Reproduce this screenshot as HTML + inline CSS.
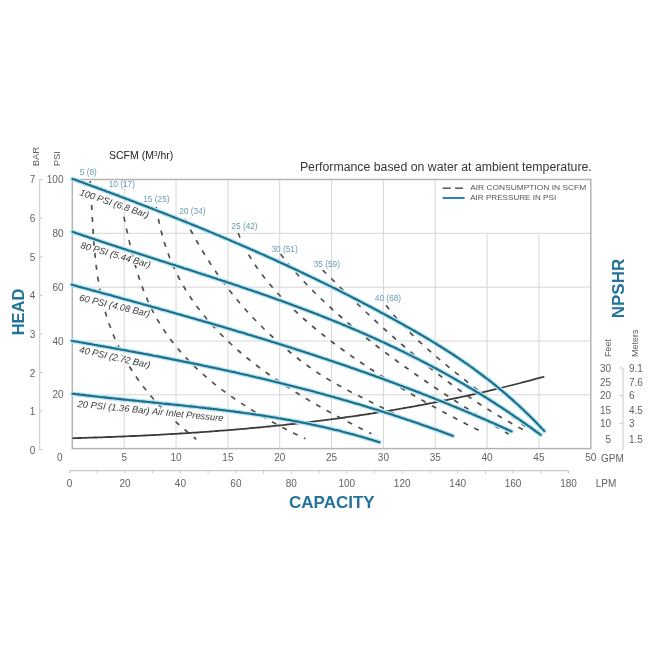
<!DOCTYPE html>
<html><head><meta charset="utf-8"><style>
html,body{margin:0;padding:0;background:#fff;width:650px;height:650px;overflow:hidden}
svg{display:block;filter:blur(0.3px);font-family:"Liberation Sans", sans-serif}
</style></head><body>
<svg width="650" height="650" viewBox="0 0 650 650">
<line x1="124.2" y1="179.5" x2="124.2" y2="448.6" stroke="#d6d6d6" stroke-width="1"/>
<line x1="176.0" y1="179.5" x2="176.0" y2="448.6" stroke="#d6d6d6" stroke-width="1"/>
<line x1="227.9" y1="179.5" x2="227.9" y2="448.6" stroke="#d6d6d6" stroke-width="1"/>
<line x1="279.7" y1="179.5" x2="279.7" y2="448.6" stroke="#d6d6d6" stroke-width="1"/>
<line x1="331.6" y1="179.5" x2="331.6" y2="448.6" stroke="#d6d6d6" stroke-width="1"/>
<line x1="383.4" y1="179.5" x2="383.4" y2="448.6" stroke="#d6d6d6" stroke-width="1"/>
<line x1="435.2" y1="179.5" x2="435.2" y2="448.6" stroke="#d6d6d6" stroke-width="1"/>
<line x1="487.1" y1="233.3" x2="487.1" y2="448.6" stroke="#d6d6d6" stroke-width="1"/>
<line x1="538.9" y1="233.3" x2="538.9" y2="448.6" stroke="#d6d6d6" stroke-width="1"/>
<line x1="72.3" y1="394.8" x2="590.8" y2="394.8" stroke="#d6d6d6" stroke-width="1"/>
<line x1="72.3" y1="341.0" x2="590.8" y2="341.0" stroke="#d6d6d6" stroke-width="1"/>
<line x1="72.3" y1="287.1" x2="590.8" y2="287.1" stroke="#d6d6d6" stroke-width="1"/>
<line x1="72.3" y1="233.3" x2="590.8" y2="233.3" stroke="#d6d6d6" stroke-width="1"/>
<rect x="72.3" y="179.5" width="518.5" height="269.1" fill="none" stroke="#b4b4b4" stroke-width="1.5"/>
<path d="M72.5,438.2 L74.5,438.2 L76.5,438.1 L78.5,438.0 L80.5,438.0 L82.5,437.9 L84.5,437.9 L86.5,437.8 L88.5,437.7 L90.5,437.7 L92.5,437.6 L94.5,437.5 L96.5,437.5 L98.5,437.4 L100.5,437.3 L102.5,437.3 L104.5,437.2 L106.5,437.1 L108.5,437.0 L110.5,437.0 L112.5,436.9 L114.5,436.8 L116.5,436.7 L118.5,436.6 L120.5,436.6 L122.5,436.5 L124.5,436.4 L126.5,436.3 L128.5,436.2 L130.5,436.1 L132.5,436.0 L134.5,436.0 L136.5,435.9 L138.5,435.8 L140.5,435.7 L142.5,435.6 L144.5,435.5 L146.5,435.4 L148.5,435.3 L150.5,435.2 L152.5,435.1 L154.5,435.0 L156.5,434.9 L158.5,434.8 L160.5,434.7 L162.5,434.6 L164.5,434.4 L166.5,434.3 L168.5,434.2 L170.5,434.1 L172.5,434.0 L174.5,433.9 L176.5,433.8 L178.5,433.6 L180.5,433.5 L182.5,433.4 L184.5,433.3 L186.5,433.1 L188.5,433.0 L190.5,432.9 L192.5,432.7 L194.5,432.6 L196.5,432.5 L198.5,432.3 L200.5,432.2 L202.5,432.1 L204.5,431.9 L206.5,431.8 L208.5,431.6 L210.5,431.5 L212.5,431.3 L214.5,431.2 L216.5,431.0 L218.5,430.9 L220.5,430.7 L222.5,430.6 L224.5,430.4 L226.5,430.3 L228.5,430.1 L230.5,429.9 L232.5,429.8 L234.5,429.6 L236.5,429.4 L238.5,429.3 L240.5,429.1 L242.5,428.9 L244.5,428.8 L246.5,428.6 L248.5,428.4 L250.5,428.2 L252.5,428.0 L254.5,427.9 L256.5,427.7 L258.5,427.5 L260.5,427.3 L262.5,427.1 L264.5,426.9 L266.5,426.7 L268.5,426.5 L270.5,426.3 L272.5,426.1 L274.5,425.9 L276.5,425.7 L278.5,425.5 L280.5,425.3 L282.5,425.1 L284.5,424.9 L286.5,424.6 L288.5,424.4 L290.5,424.2 L292.5,424.0 L294.5,423.8 L296.5,423.5 L298.5,423.3 L300.5,423.1 L302.5,422.9 L304.5,422.6 L306.5,422.4 L308.5,422.1 L310.5,421.9 L312.5,421.7 L314.5,421.4 L316.5,421.2 L318.5,420.9 L320.5,420.7 L322.5,420.4 L324.5,420.2 L326.5,419.9 L328.5,419.6 L330.5,419.4 L332.5,419.1 L334.5,418.9 L336.5,418.6 L338.5,418.3 L340.5,418.0 L342.5,417.8 L344.5,417.5 L346.5,417.2 L348.5,416.9 L350.5,416.6 L352.5,416.4 L354.5,416.1 L356.5,415.8 L358.5,415.5 L360.5,415.2 L362.5,414.9 L364.5,414.6 L366.5,414.3 L368.5,414.0 L370.5,413.7 L372.5,413.4 L374.5,413.0 L376.5,412.7 L378.5,412.4 L380.5,412.1 L382.5,411.8 L384.5,411.4 L386.5,411.1 L388.5,410.8 L390.5,410.5 L392.5,410.1 L394.5,409.8 L396.5,409.4 L398.5,409.1 L400.5,408.7 L402.5,408.4 L404.5,408.0 L406.5,407.7 L408.5,407.3 L410.5,407.0 L412.5,406.6 L414.5,406.3 L416.5,405.9 L418.5,405.5 L420.5,405.1 L422.5,404.8 L424.5,404.4 L426.5,404.0 L428.5,403.6 L430.5,403.2 L432.5,402.9 L434.5,402.5 L436.5,402.1 L438.5,401.7 L440.5,401.3 L442.5,400.9 L444.5,400.5 L446.5,400.1 L448.5,399.7 L450.5,399.2 L452.5,398.8 L454.5,398.4 L456.5,398.0 L458.5,397.6 L460.5,397.1 L462.5,396.7 L464.5,396.3 L466.5,395.8 L468.5,395.4 L470.5,395.0 L472.5,394.5 L474.5,394.1 L476.5,393.6 L478.5,393.2 L480.5,392.7 L482.5,392.3 L484.5,391.8 L486.5,391.3 L488.5,390.9 L490.5,390.4 L492.5,389.9 L494.5,389.4 L496.5,389.0 L498.5,388.5 L500.5,388.0 L502.5,387.5 L504.5,387.0 L506.5,386.5 L508.5,386.0 L510.5,385.5 L512.5,385.0 L514.5,384.5 L516.5,384.0 L518.5,383.5 L520.5,383.0 L522.5,382.4 L524.5,381.9 L526.5,381.4 L528.5,380.9 L530.5,380.3 L532.5,379.8 L534.5,379.2 L536.5,378.7 L538.5,378.2 L540.5,377.6 L542.5,377.1 L544.3,376.6" fill="none" stroke="#3a3a3a" stroke-width="1.8"/>
<path d="M90.1,181.0 L90.2,183.0 L90.4,185.0 L90.5,187.0 L90.6,189.0 L90.8,191.0 L90.9,193.0 L91.0,195.0 L91.1,197.0 L91.2,199.0 L91.4,201.0 L91.5,203.0 L91.6,205.0 L91.7,207.0 L91.8,209.0 L91.9,211.0 L92.0,213.0 L92.1,215.0 L92.2,217.0 L92.4,219.0 L92.5,221.0 L92.6,223.0 L92.7,225.0 L92.8,227.0 L92.9,229.0 L93.1,231.0 L93.2,233.0 L93.3,235.0 L93.5,237.0 L93.6,239.0 L93.8,241.0 L93.9,243.0 L94.1,245.0 L94.2,247.0 L94.4,249.0 L94.6,251.0 L94.8,253.0 L95.0,255.0 L95.2,257.0 L95.4,259.0 L95.6,261.0 L95.8,263.0 L96.1,265.0 L96.3,267.0 L96.6,269.0 L96.8,271.0 L97.1,273.0 L97.4,275.0 L97.7,277.0 L98.0,279.0 L98.4,281.0 L98.7,283.0 L99.0,285.0 L99.4,287.0 L99.8,289.0 L100.2,291.0 L100.6,293.0 L101.0,295.0 L101.5,297.0 L101.9,299.0 L102.4,301.0 L102.9,303.0 L103.4,305.0 L103.9,307.0 L104.5,309.0 L105.0,311.0 L105.6,313.0 L106.2,315.0 L106.9,317.0 L107.5,319.0 L108.1,321.0 L108.8,323.0 L109.5,325.0 L110.3,327.0 L111.0,329.0 L111.8,331.0 L112.5,333.0 L113.4,335.0 L114.2,337.0 L115.0,339.0 L115.9,341.0 L116.8,343.0 L117.8,345.0 L118.7,347.0 L119.7,349.0 L120.7,351.0 L121.7,353.0 L122.8,355.0 L123.9,357.0 L125.0,359.0 L126.1,361.0 L127.3,363.0 L128.5,365.0 L129.7,367.0 L131.0,369.0 L132.3,371.0 L133.6,373.0 L134.9,375.0 L136.3,377.0 L137.7,379.0 L139.1,381.0 L140.6,383.0 L142.1,385.0 L143.6,387.0 L145.2,389.0 L146.8,391.0 L148.4,393.0 L150.1,395.0 L151.8,397.0 L153.5,399.0 L155.3,401.0 L157.1,403.0 L158.9,405.0 L160.8,407.0 L162.7,409.0 L164.7,411.0 L166.6,413.0 L168.7,415.0 L170.7,417.0 L172.8,419.0 L175.0,421.0 L177.1,423.0 L179.4,425.0 L181.6,427.0 L183.9,429.0 L186.3,431.0 L188.6,433.0 L191.1,435.0 L193.5,437.0 L196.0,439.0 L196.3,439.2" fill="none" stroke="#505050" stroke-width="1.7" stroke-dasharray="5 7"/>
<path d="M118.3,193.4 L118.8,195.4 L119.3,197.4 L119.8,199.4 L120.3,201.4 L120.8,203.4 L121.3,205.4 L121.7,207.4 L122.2,209.4 L122.7,211.4 L123.1,213.4 L123.6,215.4 L124.0,217.4 L124.5,219.4 L124.9,221.4 L125.3,223.4 L125.8,225.4 L126.2,227.4 L126.6,229.4 L127.1,231.4 L127.5,233.4 L128.0,235.4 L128.4,237.4 L128.9,239.4 L129.3,241.4 L129.8,243.4 L130.2,245.4 L130.7,247.4 L131.2,249.4 L131.6,251.4 L132.1,253.4 L132.6,255.4 L133.1,257.4 L133.7,259.4 L134.2,261.4 L134.7,263.4 L135.3,265.4 L135.9,267.4 L136.4,269.4 L137.0,271.4 L137.6,273.4 L138.3,275.4 L138.9,277.4 L139.6,279.4 L140.2,281.4 L140.9,283.4 L141.6,285.4 L142.4,287.4 L143.1,289.4 L143.9,291.4 L144.7,293.4 L145.5,295.4 L146.4,297.4 L147.2,299.4 L148.1,301.4 L149.0,303.4 L150.0,305.4 L150.9,307.4 L151.9,309.4 L152.9,311.4 L154.0,313.4 L155.1,315.4 L156.2,317.4 L157.3,319.4 L158.5,321.4 L159.7,323.4 L160.9,325.4 L162.2,327.4 L163.5,329.4 L164.8,331.4 L166.2,333.4 L167.6,335.4 L169.0,337.4 L170.5,339.4 L172.0,341.4 L173.6,343.4 L175.2,345.4 L176.8,347.4 L178.5,349.4 L180.2,351.4 L182.0,353.4 L183.8,355.4 L185.6,357.4 L187.5,359.4 L189.4,361.4 L191.4,363.4 L193.4,365.4 L195.5,367.4 L197.6,369.4 L199.8,371.4 L202.0,373.4 L204.3,375.4 L206.6,377.4 L208.9,379.4 L211.3,381.4 L213.8,383.4 L216.3,385.4 L218.9,387.4 L221.5,389.4 L224.2,391.4 L226.9,393.4 L229.7,395.4 L232.6,397.4 L235.5,399.4 L238.4,401.4 L241.5,403.4 L244.6,405.4 L247.7,407.4 L250.9,409.4 L254.2,411.4 L257.5,413.4 L260.9,415.4 L264.3,417.4 L267.8,419.4 L271.4,421.4 L275.1,423.4 L278.8,425.4 L282.5,427.4 L286.4,429.4 L290.3,431.4 L294.3,433.4 L298.3,435.4 L302.5,437.4 L305.4,438.8" fill="none" stroke="#505050" stroke-width="1.7" stroke-dasharray="5 7"/>
<path d="M156.3,207.0 L156.6,209.0 L156.9,211.0 L157.3,213.0 L157.6,215.0 L158.0,217.0 L158.4,219.0 L158.8,221.0 L159.2,223.0 L159.7,225.0 L160.2,227.0 L160.6,229.0 L161.1,231.0 L161.7,233.0 L162.2,235.0 L162.7,237.0 L163.3,239.0 L163.9,241.0 L164.5,243.0 L165.2,245.0 L165.8,247.0 L166.5,249.0 L167.2,251.0 L167.9,253.0 L168.7,255.0 L169.4,257.0 L170.2,259.0 L171.1,261.0 L171.9,263.0 L172.8,265.0 L173.6,267.0 L174.6,269.0 L175.5,271.0 L176.5,273.0 L177.5,275.0 L178.5,277.0 L179.5,279.0 L180.6,281.0 L181.7,283.0 L182.8,285.0 L184.0,287.0 L185.2,289.0 L186.4,291.0 L187.7,293.0 L188.9,295.0 L190.3,297.0 L191.6,299.0 L193.0,301.0 L194.4,303.0 L195.8,305.0 L197.3,307.0 L198.8,309.0 L200.3,311.0 L201.9,313.0 L203.5,315.0 L205.2,317.0 L206.8,319.0 L208.6,321.0 L210.3,323.0 L212.1,325.0 L213.9,327.0 L215.8,329.0 L217.7,331.0 L219.6,333.0 L221.6,335.0 L223.6,337.0 L225.6,339.0 L227.7,341.0 L229.9,343.0 L232.0,345.0 L234.2,347.0 L236.5,349.0 L238.8,351.0 L241.1,353.0 L243.5,355.0 L245.9,357.0 L248.4,359.0 L250.9,361.0 L253.4,363.0 L256.0,365.0 L258.7,367.0 L261.3,369.0 L264.1,371.0 L266.8,373.0 L269.6,375.0 L272.5,377.0 L275.4,379.0 L278.4,381.0 L281.4,383.0 L284.4,385.0 L287.5,387.0 L290.6,389.0 L293.8,391.0 L297.0,393.0 L300.2,395.0 L303.5,397.0 L306.8,399.0 L310.2,401.0 L313.6,403.0 L317.1,405.0 L320.6,407.0 L324.1,409.0 L327.7,411.0 L331.3,413.0 L335.0,415.0 L338.7,417.0 L342.5,419.0 L346.2,421.0 L350.1,423.0 L353.9,425.0 L357.8,427.0 L361.8,429.0 L365.7,431.0 L369.8,433.0 L371.4,433.8" fill="none" stroke="#505050" stroke-width="1.7" stroke-dasharray="5 7"/>
<path d="M184.7,219.0 L185.8,221.0 L186.8,223.0 L187.9,225.0 L188.9,227.0 L190.0,229.0 L191.1,231.0 L192.2,233.0 L193.3,235.0 L194.4,237.0 L195.5,239.0 L196.7,241.0 L197.8,243.0 L199.0,245.0 L200.1,247.0 L201.3,249.0 L202.5,251.0 L203.8,253.0 L205.0,255.0 L206.2,257.0 L207.5,259.0 L208.8,261.0 L210.0,263.0 L211.3,265.0 L212.7,267.0 L214.0,269.0 L215.4,271.0 L216.7,273.0 L218.1,275.0 L219.5,277.0 L221.0,279.0 L222.4,281.0 L223.9,283.0 L225.4,285.0 L226.9,287.0 L228.4,289.0 L230.0,291.0 L231.6,293.0 L233.2,295.0 L234.8,297.0 L236.4,299.0 L238.1,301.0 L239.8,303.0 L241.5,305.0 L243.2,307.0 L245.0,309.0 L246.8,311.0 L248.6,313.0 L250.4,315.0 L252.3,317.0 L254.2,319.0 L256.1,321.0 L258.1,323.0 L260.1,325.0 L262.1,327.0 L264.1,329.0 L266.2,331.0 L268.3,333.0 L270.4,335.0 L272.6,337.0 L274.8,339.0 L277.0,341.0 L279.2,343.0 L281.5,345.0 L283.8,347.0 L286.2,349.0 L288.6,351.0 L291.0,353.0 L293.5,355.0 L296.0,357.0 L298.5,359.0 L301.1,361.0 L303.8,363.0 L306.5,365.0 L309.3,367.0 L312.1,369.0 L315.1,371.0 L318.1,373.0 L321.2,375.0 L324.4,377.0 L327.7,379.0 L331.0,381.0 L334.5,383.0 L338.0,385.0 L341.6,387.0 L345.3,389.0 L349.1,391.0 L353.0,393.0 L356.9,395.0 L360.9,397.0 L364.9,399.0 L368.9,401.0 L372.9,403.0 L377.0,405.0 L381.0,407.0 L385.1,409.0 L389.0,411.0 L393.0,413.0 L396.9,415.0 L400.7,417.0 L404.4,419.0 L408.1,421.0 L409.0,421.5" fill="none" stroke="#505050" stroke-width="1.7" stroke-dasharray="5 7"/>
<path d="M238.2,233.0 L239.0,235.0 L239.8,237.0 L240.7,239.0 L241.6,241.0 L242.5,243.0 L243.5,245.0 L244.5,247.0 L245.5,249.0 L246.6,251.0 L247.7,253.0 L248.9,255.0 L250.1,257.0 L251.3,259.0 L252.6,261.0 L253.9,263.0 L255.2,265.0 L256.5,267.0 L257.9,269.0 L259.4,271.0 L260.8,273.0 L262.4,275.0 L263.9,277.0 L265.5,279.0 L267.1,281.0 L268.7,283.0 L270.4,285.0 L272.1,287.0 L273.8,289.0 L275.6,291.0 L277.4,293.0 L279.3,295.0 L281.1,297.0 L283.1,299.0 L285.0,301.0 L287.0,303.0 L289.0,305.0 L291.0,307.0 L293.1,309.0 L295.2,311.0 L297.4,313.0 L299.6,315.0 L301.8,317.0 L304.0,319.0 L306.3,321.0 L308.6,323.0 L311.0,325.0 L313.3,327.0 L315.7,329.0 L318.2,331.0 L320.7,333.0 L323.2,335.0 L325.7,337.0 L328.3,339.0 L330.9,341.0 L333.5,343.0 L336.2,345.0 L338.9,347.0 L341.6,349.0 L344.4,351.0 L347.2,353.0 L350.0,355.0 L352.8,357.0 L355.7,359.0 L358.6,361.0 L361.6,363.0 L364.6,365.0 L367.6,367.0 L370.6,369.0 L373.7,371.0 L376.8,373.0 L380.0,375.0 L383.1,377.0 L386.3,379.0 L389.5,381.0 L392.8,383.0 L396.1,385.0 L399.4,387.0 L402.8,389.0 L406.1,391.0 L409.6,393.0 L413.0,395.0 L416.5,397.0 L420.0,399.0 L423.5,401.0 L427.1,403.0 L430.6,405.0 L434.3,407.0 L437.9,409.0 L441.6,411.0 L445.3,413.0 L449.0,415.0 L452.8,417.0 L456.6,419.0 L460.4,421.0 L464.3,423.0 L468.1,425.0 L472.1,427.0 L476.0,429.0 L479.0,430.5" fill="none" stroke="#505050" stroke-width="1.7" stroke-dasharray="5 7"/>
<path d="M280.6,254.0 L282.1,256.0 L283.7,258.0 L285.2,260.0 L286.8,262.0 L288.5,264.0 L290.1,266.0 L291.8,268.0 L293.5,270.0 L295.3,272.0 L297.0,274.0 L298.8,276.0 L300.7,278.0 L302.5,280.0 L304.4,282.0 L306.3,284.0 L308.2,286.0 L310.1,288.0 L312.1,290.0 L314.1,292.0 L316.1,294.0 L318.2,296.0 L320.2,298.0 L322.3,300.0 L324.4,302.0 L326.6,304.0 L328.7,306.0 L330.9,308.0 L333.1,310.0 L335.4,312.0 L337.6,314.0 L339.9,316.0 L342.2,318.0 L344.5,320.0 L346.9,322.0 L349.2,324.0 L351.6,326.0 L354.0,328.0 L356.5,330.0 L358.9,332.0 L361.4,334.0 L363.9,336.0 L366.4,338.0 L369.0,340.0 L371.5,342.0 L374.1,344.0 L376.7,346.0 L379.3,348.0 L382.0,350.0 L384.6,352.0 L387.3,354.0 L390.0,356.0 L392.7,358.0 L395.4,360.0 L398.2,362.0 L401.0,364.0 L403.8,366.0 L406.6,368.0 L409.4,370.0 L412.2,372.0 L415.1,374.0 L418.0,376.0 L420.9,378.0 L423.8,380.0 L426.7,382.0 L429.7,384.0 L432.7,386.0 L435.6,388.0 L438.6,390.0 L441.7,392.0 L444.7,394.0 L447.7,396.0 L450.8,398.0 L453.9,400.0 L457.0,402.0 L460.1,404.0 L463.2,406.0 L466.4,408.0 L469.5,410.0 L472.7,412.0 L475.9,414.0 L479.1,416.0 L482.3,418.0 L485.5,420.0 L488.7,422.0 L492.0,424.0 L495.3,426.0 L498.5,428.0 L501.8,430.0 L505.1,432.0 L508.5,434.0 L508.6,434.1" fill="none" stroke="#505050" stroke-width="1.7" stroke-dasharray="5 7"/>
<path d="M322.6,270.0 L324.7,272.0 L326.7,274.0 L328.7,276.0 L330.7,278.0 L332.8,280.0 L334.8,282.0 L336.9,284.0 L338.9,286.0 L340.9,288.0 L343.0,290.0 L345.0,292.0 L347.1,294.0 L349.2,296.0 L351.2,298.0 L353.3,300.0 L355.4,302.0 L357.5,304.0 L359.6,306.0 L361.7,308.0 L363.8,310.0 L365.9,312.0 L368.0,314.0 L370.2,316.0 L372.3,318.0 L374.5,320.0 L376.7,322.0 L378.8,324.0 L381.0,326.0 L383.2,328.0 L385.4,330.0 L387.7,332.0 L389.9,334.0 L392.2,336.0 L394.4,338.0 L396.7,340.0 L399.0,342.0 L401.3,344.0 L403.6,346.0 L405.9,348.0 L408.3,350.0 L410.7,352.0 L413.1,354.0 L415.5,356.0 L417.9,358.0 L420.3,360.0 L422.8,362.0 L425.2,364.0 L427.7,366.0 L430.2,368.0 L432.7,370.0 L435.3,372.0 L437.9,374.0 L440.5,376.0 L443.1,378.0 L445.7,380.0 L448.3,382.0 L451.0,384.0 L453.7,386.0 L456.5,388.0 L459.2,390.0 L462.0,392.0 L464.9,394.0 L467.8,396.0 L470.7,398.0 L473.6,400.0 L476.6,402.0 L479.6,404.0 L482.7,406.0 L485.8,408.0 L489.0,410.0 L492.2,412.0 L495.5,414.0 L498.8,416.0 L502.2,418.0 L505.6,420.0 L509.1,422.0 L512.7,424.0 L516.3,426.0 L519.9,428.0 L523.7,430.0 L527.5,432.0 L528.0,432.3" fill="none" stroke="#505050" stroke-width="1.7" stroke-dasharray="5 7"/>
<path d="M386.1,305.3 L387.6,307.3 L389.1,309.3 L390.7,311.3 L392.4,313.3 L394.0,315.3 L395.8,317.3 L397.5,319.3 L399.3,321.3 L401.1,323.3 L403.0,325.3 L404.9,327.3 L406.8,329.3 L408.8,331.3 L410.8,333.3 L412.9,335.3 L414.9,337.3 L417.0,339.3 L419.1,341.3 L421.3,343.3 L423.5,345.3 L425.7,347.3 L427.9,349.3 L430.2,351.3 L432.5,353.3 L434.8,355.3 L437.1,357.3 L439.5,359.3 L441.9,361.3 L444.3,363.3 L446.7,365.3 L449.1,367.3 L451.6,369.3 L454.1,371.3 L456.5,373.3 L459.0,375.3 L461.6,377.3 L464.1,379.3 L466.6,381.3 L469.2,383.3 L471.7,385.3 L474.3,387.3 L476.9,389.3 L479.5,391.3 L482.1,393.3 L484.7,395.3 L487.3,397.3 L489.9,399.3 L492.5,401.3 L495.1,403.3 L497.7,405.3 L500.3,407.3 L503.0,409.3 L505.6,411.3 L508.2,413.3 L510.8,415.3 L513.4,417.3 L516.0,419.3 L518.6,421.3 L521.2,423.3 L523.8,425.3 L526.4,427.3 L528.9,429.3 L530.5,430.5" fill="none" stroke="#505050" stroke-width="1.7" stroke-dasharray="5 7"/>
<text x="77.3" y="407.0" font-size="9.4" font-style="italic" fill="#3a3a3a" stroke="#fff" stroke-width="2.2" paint-order="stroke" transform="rotate(5.6 77.3 407.0)">20 PSI (1.36 Bar) Air Inlet Pressure</text>
<text x="78.8" y="352.5" font-size="9.4" font-style="italic" fill="#3a3a3a" stroke="#fff" stroke-width="2.2" paint-order="stroke" transform="rotate(12.6 78.8 352.5)">40 PSI (2.72 Bar)</text>
<text x="78.7" y="300.5" font-size="9.4" font-style="italic" fill="#3a3a3a" stroke="#fff" stroke-width="2.2" paint-order="stroke" transform="rotate(13.2 78.7 300.5)">60 PSI (4.08 Bar)</text>
<text x="80.0" y="248.0" font-size="9.4" font-style="italic" fill="#3a3a3a" stroke="#fff" stroke-width="2.2" paint-order="stroke" transform="rotate(16.0 80.0 248.0)">80 PSI (5.44 Bar)</text>
<text x="79.0" y="195.0" font-size="9.4" font-style="italic" fill="#3a3a3a" stroke="#fff" stroke-width="2.2" paint-order="stroke" transform="rotate(18.7 79.0 195.0)">100 PSI (6.8 Bar)</text>
<path d="M72.5,178.9 L74.5,179.6 L76.5,180.3 L78.5,181.0 L80.5,181.8 L82.5,182.5 L84.5,183.2 L86.5,184.0 L88.5,184.7 L90.5,185.4 L92.5,186.2 L94.5,186.9 L96.5,187.6 L98.5,188.4 L100.5,189.1 L102.5,189.9 L104.5,190.6 L106.5,191.4 L108.5,192.1 L110.5,192.8 L112.5,193.6 L114.5,194.3 L116.5,195.1 L118.5,195.8 L120.5,196.6 L122.5,197.4 L124.5,198.1 L126.5,198.9 L128.5,199.6 L130.5,200.4 L132.5,201.1 L134.5,201.9 L136.5,202.7 L138.5,203.4 L140.5,204.2 L142.5,205.0 L144.5,205.7 L146.5,206.5 L148.5,207.3 L150.5,208.1 L152.5,208.8 L154.5,209.6 L156.5,210.4 L158.5,211.2 L160.5,211.9 L162.5,212.7 L164.5,213.5 L166.5,214.3 L168.5,215.1 L170.5,215.9 L172.5,216.7 L174.5,217.5 L176.5,218.3 L178.5,219.1 L180.5,219.9 L182.5,220.7 L184.5,221.5 L186.5,222.3 L188.5,223.1 L190.5,223.9 L192.5,224.7 L194.5,225.5 L196.5,226.3 L198.5,227.1 L200.5,228.0 L202.5,228.8 L204.5,229.6 L206.5,230.4 L208.5,231.3 L210.5,232.1 L212.5,232.9 L214.5,233.8 L216.5,234.6 L218.5,235.4 L220.5,236.3 L222.5,237.1 L224.5,238.0 L226.5,238.8 L228.5,239.6 L230.5,240.5 L232.5,241.4 L234.5,242.2 L236.5,243.1 L238.5,243.9 L240.5,244.8 L242.5,245.7 L244.5,246.5 L246.5,247.4 L248.5,248.3 L250.5,249.1 L252.5,250.0 L254.5,250.9 L256.5,251.8 L258.5,252.7 L260.5,253.6 L262.5,254.4 L264.5,255.3 L266.5,256.2 L268.5,257.1 L270.5,258.0 L272.5,258.9 L274.5,259.8 L276.5,260.7 L278.5,261.7 L280.5,262.6 L282.5,263.5 L284.5,264.4 L286.5,265.3 L288.5,266.3 L290.5,267.2 L292.5,268.1 L294.5,269.0 L296.5,270.0 L298.5,270.9 L300.5,271.9 L302.5,272.8 L304.5,273.8 L306.5,274.7 L308.5,275.7 L310.5,276.6 L312.5,277.6 L314.5,278.5 L316.5,279.5 L318.5,280.5 L320.5,281.5 L322.5,282.4 L324.5,283.4 L326.5,284.4 L328.5,285.4 L330.5,286.4 L332.5,287.4 L334.5,288.3 L336.5,289.3 L338.5,290.3 L340.5,291.4 L342.5,292.4 L344.5,293.4 L346.5,294.4 L348.5,295.4 L350.5,296.4 L352.5,297.5 L354.5,298.5 L356.5,299.5 L358.5,300.5 L360.5,301.6 L362.5,302.6 L364.5,303.7 L366.5,304.7 L368.5,305.8 L370.5,306.8 L372.5,307.9 L374.5,309.0 L376.5,310.0 L378.5,311.1 L380.5,312.2 L382.5,313.2 L384.5,314.3 L386.5,315.4 L388.5,316.5 L390.5,317.6 L392.5,318.7 L394.5,319.8 L396.5,320.9 L398.5,322.0 L400.5,323.1 L402.5,324.2 L404.5,325.3 L406.5,326.5 L408.5,327.6 L410.5,328.7 L412.5,329.9 L414.5,331.0 L416.5,332.2 L418.5,333.3 L420.5,334.5 L422.5,335.6 L424.5,336.8 L426.5,338.0 L428.5,339.2 L430.5,340.4 L432.5,341.6 L434.5,342.8 L436.5,344.0 L438.5,345.3 L440.5,346.5 L442.5,347.8 L444.5,349.0 L446.5,350.3 L448.5,351.6 L450.5,352.9 L452.5,354.2 L454.5,355.5 L456.5,356.8 L458.5,358.2 L460.5,359.5 L462.5,360.9 L464.5,362.3 L466.5,363.6 L468.5,365.0 L470.5,366.5 L472.5,367.9 L474.5,369.3 L476.5,370.8 L478.5,372.3 L480.5,373.8 L482.5,375.3 L484.5,376.8 L486.5,378.3 L488.5,379.9 L490.5,381.4 L492.5,383.0 L494.5,384.6 L496.5,386.3 L498.5,387.9 L500.5,389.6 L502.5,391.2 L504.5,392.9 L506.5,394.6 L508.5,396.4 L510.5,398.1 L512.5,399.9 L514.5,401.7 L516.5,403.5 L518.5,405.3 L520.5,407.2 L522.5,409.1 L524.5,411.0 L526.5,412.9 L528.5,414.8 L530.5,416.8 L532.5,418.8 L534.5,420.8 L536.5,422.8 L538.5,424.9 L540.5,427.0 L542.5,429.1 L544.3,431.0" fill="none" stroke="#b2e4f2" stroke-width="4.6" stroke-linecap="round"/>
<path d="M72.5,231.8 L74.5,232.5 L76.5,233.2 L78.5,233.8 L80.5,234.5 L82.5,235.2 L84.5,235.9 L86.5,236.6 L88.5,237.2 L90.5,237.9 L92.5,238.6 L94.5,239.2 L96.5,239.9 L98.5,240.6 L100.5,241.2 L102.5,241.9 L104.5,242.6 L106.5,243.2 L108.5,243.9 L110.5,244.5 L112.5,245.2 L114.5,245.8 L116.5,246.5 L118.5,247.2 L120.5,247.8 L122.5,248.5 L124.5,249.1 L126.5,249.7 L128.5,250.4 L130.5,251.0 L132.5,251.7 L134.5,252.3 L136.5,253.0 L138.5,253.6 L140.5,254.3 L142.5,254.9 L144.5,255.5 L146.5,256.2 L148.5,256.8 L150.5,257.5 L152.5,258.1 L154.5,258.8 L156.5,259.4 L158.5,260.0 L160.5,260.7 L162.5,261.3 L164.5,261.9 L166.5,262.6 L168.5,263.2 L170.5,263.9 L172.5,264.5 L174.5,265.1 L176.5,265.8 L178.5,266.4 L180.5,267.1 L182.5,267.7 L184.5,268.4 L186.5,269.0 L188.5,269.6 L190.5,270.3 L192.5,270.9 L194.5,271.6 L196.5,272.2 L198.5,272.9 L200.5,273.5 L202.5,274.2 L204.5,274.8 L206.5,275.5 L208.5,276.1 L210.5,276.8 L212.5,277.4 L214.5,278.1 L216.5,278.7 L218.5,279.4 L220.5,280.0 L222.5,280.7 L224.5,281.3 L226.5,282.0 L228.5,282.7 L230.5,283.3 L232.5,284.0 L234.5,284.7 L236.5,285.3 L238.5,286.0 L240.5,286.7 L242.5,287.4 L244.5,288.0 L246.5,288.7 L248.5,289.4 L250.5,290.1 L252.5,290.8 L254.5,291.5 L256.5,292.1 L258.5,292.8 L260.5,293.5 L262.5,294.2 L264.5,294.9 L266.5,295.6 L268.5,296.3 L270.5,297.0 L272.5,297.7 L274.5,298.4 L276.5,299.2 L278.5,299.9 L280.5,300.6 L282.5,301.3 L284.5,302.0 L286.5,302.8 L288.5,303.5 L290.5,304.2 L292.5,305.0 L294.5,305.7 L296.5,306.4 L298.5,307.2 L300.5,307.9 L302.5,308.7 L304.5,309.4 L306.5,310.2 L308.5,311.0 L310.5,311.7 L312.5,312.5 L314.5,313.3 L316.5,314.0 L318.5,314.8 L320.5,315.6 L322.5,316.4 L324.5,317.2 L326.5,318.0 L328.5,318.8 L330.5,319.6 L332.5,320.4 L334.5,321.2 L336.5,322.0 L338.5,322.8 L340.5,323.6 L342.5,324.5 L344.5,325.3 L346.5,326.1 L348.5,327.0 L350.5,327.8 L352.5,328.7 L354.5,329.5 L356.5,330.4 L358.5,331.2 L360.5,332.1 L362.5,333.0 L364.5,333.8 L366.5,334.7 L368.5,335.6 L370.5,336.5 L372.5,337.4 L374.5,338.3 L376.5,339.2 L378.5,340.1 L380.5,341.0 L382.5,341.9 L384.5,342.8 L386.5,343.8 L388.5,344.7 L390.5,345.7 L392.5,346.6 L394.5,347.5 L396.5,348.5 L398.5,349.5 L400.5,350.4 L402.5,351.4 L404.5,352.4 L406.5,353.4 L408.5,354.4 L410.5,355.4 L412.5,356.4 L414.5,357.4 L416.5,358.4 L418.5,359.4 L420.5,360.4 L422.5,361.5 L424.5,362.5 L426.5,363.5 L428.5,364.6 L430.5,365.6 L432.5,366.7 L434.5,367.8 L436.5,368.8 L438.5,369.9 L440.5,371.0 L442.5,372.1 L444.5,373.2 L446.5,374.3 L448.5,375.4 L450.5,376.6 L452.5,377.7 L454.5,378.8 L456.5,380.0 L458.5,381.1 L460.5,382.3 L462.5,383.4 L464.5,384.6 L466.5,385.8 L468.5,387.0 L470.5,388.1 L472.5,389.3 L474.5,390.5 L476.5,391.8 L478.5,393.0 L480.5,394.2 L482.5,395.4 L484.5,396.7 L486.5,397.9 L488.5,399.2 L490.5,400.5 L492.5,401.7 L494.5,403.0 L496.5,404.3 L498.5,405.6 L500.5,406.9 L502.5,408.2 L504.5,409.5 L506.5,410.9 L508.5,412.2 L510.5,413.5 L512.5,414.9 L514.5,416.3 L516.5,417.6 L518.5,419.0 L520.5,420.4 L522.5,421.8 L524.5,423.2 L526.5,424.6 L528.5,426.0 L530.5,427.4 L532.5,428.9 L534.5,430.3 L536.5,431.8 L538.5,433.2 L540.5,434.7 L540.6,434.8" fill="none" stroke="#b2e4f2" stroke-width="4.6" stroke-linecap="round"/>
<path d="M71.8,284.7 L73.8,285.3 L75.8,285.8 L77.8,286.4 L79.8,286.9 L81.8,287.4 L83.8,288.0 L85.8,288.5 L87.8,289.1 L89.8,289.6 L91.8,290.2 L93.8,290.7 L95.8,291.3 L97.8,291.8 L99.8,292.3 L101.8,292.9 L103.8,293.4 L105.8,294.0 L107.8,294.5 L109.8,295.1 L111.8,295.6 L113.8,296.2 L115.8,296.7 L117.8,297.3 L119.8,297.8 L121.8,298.4 L123.8,298.9 L125.8,299.5 L127.8,300.0 L129.8,300.6 L131.8,301.1 L133.8,301.7 L135.8,302.2 L137.8,302.8 L139.8,303.3 L141.8,303.9 L143.8,304.4 L145.8,305.0 L147.8,305.5 L149.8,306.1 L151.8,306.7 L153.8,307.2 L155.8,307.8 L157.8,308.3 L159.8,308.9 L161.8,309.5 L163.8,310.0 L165.8,310.6 L167.8,311.1 L169.8,311.7 L171.8,312.3 L173.8,312.8 L175.8,313.4 L177.8,314.0 L179.8,314.5 L181.8,315.1 L183.8,315.7 L185.8,316.2 L187.8,316.8 L189.8,317.4 L191.8,317.9 L193.8,318.5 L195.8,319.1 L197.8,319.7 L199.8,320.2 L201.8,320.8 L203.8,321.4 L205.8,322.0 L207.8,322.5 L209.8,323.1 L211.8,323.7 L213.8,324.3 L215.8,324.9 L217.8,325.4 L219.8,326.0 L221.8,326.6 L223.8,327.2 L225.8,327.8 L227.8,328.4 L229.8,329.0 L231.8,329.6 L233.8,330.2 L235.8,330.8 L237.8,331.4 L239.8,331.9 L241.8,332.5 L243.8,333.1 L245.8,333.7 L247.8,334.4 L249.8,335.0 L251.8,335.6 L253.8,336.2 L255.8,336.8 L257.8,337.4 L259.8,338.0 L261.8,338.6 L263.8,339.2 L265.8,339.8 L267.8,340.5 L269.8,341.1 L271.8,341.7 L273.8,342.3 L275.8,342.9 L277.8,343.6 L279.8,344.2 L281.8,344.8 L283.8,345.4 L285.8,346.1 L287.8,346.7 L289.8,347.3 L291.8,348.0 L293.8,348.6 L295.8,349.2 L297.8,349.9 L299.8,350.5 L301.8,351.2 L303.8,351.8 L305.8,352.5 L307.8,353.1 L309.8,353.8 L311.8,354.4 L313.8,355.1 L315.8,355.7 L317.8,356.4 L319.8,357.1 L321.8,357.7 L323.8,358.4 L325.8,359.0 L327.8,359.7 L329.8,360.4 L331.8,361.1 L333.8,361.7 L335.8,362.4 L337.8,363.1 L339.8,363.8 L341.8,364.4 L343.8,365.1 L345.8,365.8 L347.8,366.5 L349.8,367.2 L351.8,367.9 L353.8,368.6 L355.8,369.3 L357.8,370.0 L359.8,370.7 L361.8,371.4 L363.8,372.1 L365.8,372.8 L367.8,373.5 L369.8,374.2 L371.8,374.9 L373.8,375.6 L375.8,376.4 L377.8,377.1 L379.8,377.8 L381.8,378.5 L383.8,379.3 L385.8,380.0 L387.8,380.7 L389.8,381.5 L391.8,382.2 L393.8,382.9 L395.8,383.7 L397.8,384.4 L399.8,385.2 L401.8,385.9 L403.8,386.7 L405.8,387.4 L407.8,388.2 L409.8,389.0 L411.8,389.7 L413.8,390.5 L415.8,391.3 L417.8,392.0 L419.8,392.8 L421.8,393.6 L423.8,394.4 L425.8,395.1 L427.8,395.9 L429.8,396.7 L431.8,397.5 L433.8,398.3 L435.8,399.1 L437.8,399.9 L439.8,400.7 L441.8,401.5 L443.8,402.3 L445.8,403.1 L447.8,403.9 L449.8,404.7 L451.8,405.6 L453.8,406.4 L455.8,407.2 L457.8,408.0 L459.8,408.9 L461.8,409.7 L463.8,410.5 L465.8,411.4 L467.8,412.2 L469.8,413.0 L471.8,413.9 L473.8,414.7 L475.8,415.6 L477.8,416.5 L479.8,417.3 L481.8,418.2 L483.8,419.0 L485.8,419.9 L487.8,420.8 L489.8,421.7 L491.8,422.5 L493.8,423.4 L495.8,424.3 L497.8,425.2 L499.8,426.1 L501.8,427.0 L503.8,427.9 L505.8,428.8 L507.8,429.7 L509.8,430.6 L511.5,431.4" fill="none" stroke="#b2e4f2" stroke-width="4.6" stroke-linecap="round"/>
<path d="M71.8,340.8 L73.8,341.2 L75.8,341.5 L77.8,341.8 L79.8,342.2 L81.8,342.5 L83.8,342.9 L85.8,343.2 L87.8,343.6 L89.8,343.9 L91.8,344.3 L93.8,344.7 L95.8,345.0 L97.8,345.4 L99.8,345.7 L101.8,346.1 L103.8,346.4 L105.8,346.8 L107.8,347.1 L109.8,347.5 L111.8,347.9 L113.8,348.2 L115.8,348.6 L117.8,349.0 L119.8,349.3 L121.8,349.7 L123.8,350.0 L125.8,350.4 L127.8,350.8 L129.8,351.2 L131.8,351.5 L133.8,351.9 L135.8,352.3 L137.8,352.6 L139.8,353.0 L141.8,353.4 L143.8,353.8 L145.8,354.1 L147.8,354.5 L149.8,354.9 L151.8,355.3 L153.8,355.7 L155.8,356.0 L157.8,356.4 L159.8,356.8 L161.8,357.2 L163.8,357.6 L165.8,358.0 L167.8,358.4 L169.8,358.8 L171.8,359.2 L173.8,359.6 L175.8,360.0 L177.8,360.4 L179.8,360.8 L181.8,361.2 L183.8,361.6 L185.8,362.0 L187.8,362.4 L189.8,362.8 L191.8,363.2 L193.8,363.6 L195.8,364.0 L197.8,364.4 L199.8,364.8 L201.8,365.2 L203.8,365.7 L205.8,366.1 L207.8,366.5 L209.8,366.9 L211.8,367.4 L213.8,367.8 L215.8,368.2 L217.8,368.6 L219.8,369.1 L221.8,369.5 L223.8,369.9 L225.8,370.4 L227.8,370.8 L229.8,371.3 L231.8,371.7 L233.8,372.1 L235.8,372.6 L237.8,373.0 L239.8,373.5 L241.8,373.9 L243.8,374.4 L245.8,374.8 L247.8,375.3 L249.8,375.8 L251.8,376.2 L253.8,376.7 L255.8,377.2 L257.8,377.6 L259.8,378.1 L261.8,378.6 L263.8,379.0 L265.8,379.5 L267.8,380.0 L269.8,380.5 L271.8,381.0 L273.8,381.4 L275.8,381.9 L277.8,382.4 L279.8,382.9 L281.8,383.4 L283.8,383.9 L285.8,384.4 L287.8,384.9 L289.8,385.4 L291.8,385.9 L293.8,386.4 L295.8,386.9 L297.8,387.5 L299.8,388.0 L301.8,388.5 L303.8,389.0 L305.8,389.5 L307.8,390.1 L309.8,390.6 L311.8,391.1 L313.8,391.6 L315.8,392.2 L317.8,392.7 L319.8,393.3 L321.8,393.8 L323.8,394.3 L325.8,394.9 L327.8,395.4 L329.8,396.0 L331.8,396.6 L333.8,397.1 L335.8,397.7 L337.8,398.2 L339.8,398.8 L341.8,399.4 L343.8,400.0 L345.8,400.5 L347.8,401.1 L349.8,401.7 L351.8,402.3 L353.8,402.9 L355.8,403.5 L357.8,404.0 L359.8,404.6 L361.8,405.2 L363.8,405.8 L365.8,406.4 L367.8,407.1 L369.8,407.7 L371.8,408.3 L373.8,408.9 L375.8,409.5 L377.8,410.1 L379.8,410.8 L381.8,411.4 L383.8,412.0 L385.8,412.7 L387.8,413.3 L389.8,413.9 L391.8,414.6 L393.8,415.2 L395.8,415.9 L397.8,416.5 L399.8,417.2 L401.8,417.9 L403.8,418.5 L405.8,419.2 L407.8,419.9 L409.8,420.5 L411.8,421.2 L413.8,421.9 L415.8,422.6 L417.8,423.3 L419.8,424.0 L421.8,424.7 L423.8,425.4 L425.8,426.1 L427.8,426.8 L429.8,427.5 L431.8,428.2 L433.8,428.9 L435.8,429.6 L437.8,430.3 L439.8,431.1 L441.8,431.8 L443.8,432.5 L445.8,433.3 L447.8,434.0 L449.8,434.8 L451.8,435.5 L452.9,435.9" fill="none" stroke="#b2e4f2" stroke-width="4.6" stroke-linecap="round"/>
<path d="M72.5,393.7 L74.5,393.9 L76.5,394.2 L78.5,394.4 L80.5,394.7 L82.5,394.9 L84.5,395.1 L86.5,395.4 L88.5,395.6 L90.5,395.8 L92.5,396.1 L94.5,396.3 L96.5,396.5 L98.5,396.8 L100.5,397.0 L102.5,397.2 L104.5,397.4 L106.5,397.6 L108.5,397.9 L110.5,398.1 L112.5,398.3 L114.5,398.5 L116.5,398.7 L118.5,398.9 L120.5,399.1 L122.5,399.4 L124.5,399.6 L126.5,399.8 L128.5,400.0 L130.5,400.2 L132.5,400.4 L134.5,400.6 L136.5,400.8 L138.5,401.0 L140.5,401.2 L142.5,401.4 L144.5,401.6 L146.5,401.8 L148.5,402.0 L150.5,402.2 L152.5,402.4 L154.5,402.6 L156.5,402.8 L158.5,403.0 L160.5,403.2 L162.5,403.5 L164.5,403.7 L166.5,403.9 L168.5,404.1 L170.5,404.3 L172.5,404.5 L174.5,404.7 L176.5,404.9 L178.5,405.1 L180.5,405.3 L182.5,405.5 L184.5,405.7 L186.5,406.0 L188.5,406.2 L190.5,406.4 L192.5,406.6 L194.5,406.8 L196.5,407.0 L198.5,407.3 L200.5,407.5 L202.5,407.7 L204.5,407.9 L206.5,408.2 L208.5,408.4 L210.5,408.6 L212.5,408.9 L214.5,409.1 L216.5,409.3 L218.5,409.6 L220.5,409.8 L222.5,410.1 L224.5,410.3 L226.5,410.6 L228.5,410.8 L230.5,411.1 L232.5,411.3 L234.5,411.6 L236.5,411.9 L238.5,412.1 L240.5,412.4 L242.5,412.7 L244.5,413.0 L246.5,413.2 L248.5,413.5 L250.5,413.8 L252.5,414.1 L254.5,414.4 L256.5,414.7 L258.5,415.0 L260.5,415.3 L262.5,415.6 L264.5,415.9 L266.5,416.2 L268.5,416.5 L270.5,416.9 L272.5,417.2 L274.5,417.5 L276.5,417.8 L278.5,418.2 L280.5,418.5 L282.5,418.9 L284.5,419.2 L286.5,419.6 L288.5,419.9 L290.5,420.3 L292.5,420.7 L294.5,421.1 L296.5,421.4 L298.5,421.8 L300.5,422.2 L302.5,422.6 L304.5,423.0 L306.5,423.4 L308.5,423.8 L310.5,424.2 L312.5,424.7 L314.5,425.1 L316.5,425.5 L318.5,425.9 L320.5,426.4 L322.5,426.8 L324.5,427.3 L326.5,427.8 L328.5,428.2 L330.5,428.7 L332.5,429.2 L334.5,429.7 L336.5,430.1 L338.5,430.6 L340.5,431.1 L342.5,431.7 L344.5,432.2 L346.5,432.7 L348.5,433.2 L350.5,433.8 L352.5,434.3 L354.5,434.8 L356.5,435.4 L358.5,436.0 L360.5,436.5 L362.5,437.1 L364.5,437.7 L366.5,438.3 L368.5,438.9 L370.5,439.5 L372.5,440.1 L374.5,440.7 L376.5,441.3 L378.5,442.0 L379.4,442.3" fill="none" stroke="#b2e4f2" stroke-width="4.6" stroke-linecap="round"/>
<path d="M72.5,178.9 L74.5,179.6 L76.5,180.3 L78.5,181.0 L80.5,181.8 L82.5,182.5 L84.5,183.2 L86.5,184.0 L88.5,184.7 L90.5,185.4 L92.5,186.2 L94.5,186.9 L96.5,187.6 L98.5,188.4 L100.5,189.1 L102.5,189.9 L104.5,190.6 L106.5,191.4 L108.5,192.1 L110.5,192.8 L112.5,193.6 L114.5,194.3 L116.5,195.1 L118.5,195.8 L120.5,196.6 L122.5,197.4 L124.5,198.1 L126.5,198.9 L128.5,199.6 L130.5,200.4 L132.5,201.1 L134.5,201.9 L136.5,202.7 L138.5,203.4 L140.5,204.2 L142.5,205.0 L144.5,205.7 L146.5,206.5 L148.5,207.3 L150.5,208.1 L152.5,208.8 L154.5,209.6 L156.5,210.4 L158.5,211.2 L160.5,211.9 L162.5,212.7 L164.5,213.5 L166.5,214.3 L168.5,215.1 L170.5,215.9 L172.5,216.7 L174.5,217.5 L176.5,218.3 L178.5,219.1 L180.5,219.9 L182.5,220.7 L184.5,221.5 L186.5,222.3 L188.5,223.1 L190.5,223.9 L192.5,224.7 L194.5,225.5 L196.5,226.3 L198.5,227.1 L200.5,228.0 L202.5,228.8 L204.5,229.6 L206.5,230.4 L208.5,231.3 L210.5,232.1 L212.5,232.9 L214.5,233.8 L216.5,234.6 L218.5,235.4 L220.5,236.3 L222.5,237.1 L224.5,238.0 L226.5,238.8 L228.5,239.6 L230.5,240.5 L232.5,241.4 L234.5,242.2 L236.5,243.1 L238.5,243.9 L240.5,244.8 L242.5,245.7 L244.5,246.5 L246.5,247.4 L248.5,248.3 L250.5,249.1 L252.5,250.0 L254.5,250.9 L256.5,251.8 L258.5,252.7 L260.5,253.6 L262.5,254.4 L264.5,255.3 L266.5,256.2 L268.5,257.1 L270.5,258.0 L272.5,258.9 L274.5,259.8 L276.5,260.7 L278.5,261.7 L280.5,262.6 L282.5,263.5 L284.5,264.4 L286.5,265.3 L288.5,266.3 L290.5,267.2 L292.5,268.1 L294.5,269.0 L296.5,270.0 L298.5,270.9 L300.5,271.9 L302.5,272.8 L304.5,273.8 L306.5,274.7 L308.5,275.7 L310.5,276.6 L312.5,277.6 L314.5,278.5 L316.5,279.5 L318.5,280.5 L320.5,281.5 L322.5,282.4 L324.5,283.4 L326.5,284.4 L328.5,285.4 L330.5,286.4 L332.5,287.4 L334.5,288.3 L336.5,289.3 L338.5,290.3 L340.5,291.4 L342.5,292.4 L344.5,293.4 L346.5,294.4 L348.5,295.4 L350.5,296.4 L352.5,297.5 L354.5,298.5 L356.5,299.5 L358.5,300.5 L360.5,301.6 L362.5,302.6 L364.5,303.7 L366.5,304.7 L368.5,305.8 L370.5,306.8 L372.5,307.9 L374.5,309.0 L376.5,310.0 L378.5,311.1 L380.5,312.2 L382.5,313.2 L384.5,314.3 L386.5,315.4 L388.5,316.5 L390.5,317.6 L392.5,318.7 L394.5,319.8 L396.5,320.9 L398.5,322.0 L400.5,323.1 L402.5,324.2 L404.5,325.3 L406.5,326.5 L408.5,327.6 L410.5,328.7 L412.5,329.9 L414.5,331.0 L416.5,332.2 L418.5,333.3 L420.5,334.5 L422.5,335.6 L424.5,336.8 L426.5,338.0 L428.5,339.2 L430.5,340.4 L432.5,341.6 L434.5,342.8 L436.5,344.0 L438.5,345.3 L440.5,346.5 L442.5,347.8 L444.5,349.0 L446.5,350.3 L448.5,351.6 L450.5,352.9 L452.5,354.2 L454.5,355.5 L456.5,356.8 L458.5,358.2 L460.5,359.5 L462.5,360.9 L464.5,362.3 L466.5,363.6 L468.5,365.0 L470.5,366.5 L472.5,367.9 L474.5,369.3 L476.5,370.8 L478.5,372.3 L480.5,373.8 L482.5,375.3 L484.5,376.8 L486.5,378.3 L488.5,379.9 L490.5,381.4 L492.5,383.0 L494.5,384.6 L496.5,386.3 L498.5,387.9 L500.5,389.6 L502.5,391.2 L504.5,392.9 L506.5,394.6 L508.5,396.4 L510.5,398.1 L512.5,399.9 L514.5,401.7 L516.5,403.5 L518.5,405.3 L520.5,407.2 L522.5,409.1 L524.5,411.0 L526.5,412.9 L528.5,414.8 L530.5,416.8 L532.5,418.8 L534.5,420.8 L536.5,422.8 L538.5,424.9 L540.5,427.0 L542.5,429.1 L544.3,431.0" fill="none" stroke="#1f6c88" stroke-width="2.1" stroke-linecap="round"/>
<path d="M72.5,231.8 L74.5,232.5 L76.5,233.2 L78.5,233.8 L80.5,234.5 L82.5,235.2 L84.5,235.9 L86.5,236.6 L88.5,237.2 L90.5,237.9 L92.5,238.6 L94.5,239.2 L96.5,239.9 L98.5,240.6 L100.5,241.2 L102.5,241.9 L104.5,242.6 L106.5,243.2 L108.5,243.9 L110.5,244.5 L112.5,245.2 L114.5,245.8 L116.5,246.5 L118.5,247.2 L120.5,247.8 L122.5,248.5 L124.5,249.1 L126.5,249.7 L128.5,250.4 L130.5,251.0 L132.5,251.7 L134.5,252.3 L136.5,253.0 L138.5,253.6 L140.5,254.3 L142.5,254.9 L144.5,255.5 L146.5,256.2 L148.5,256.8 L150.5,257.5 L152.5,258.1 L154.5,258.8 L156.5,259.4 L158.5,260.0 L160.5,260.7 L162.5,261.3 L164.5,261.9 L166.5,262.6 L168.5,263.2 L170.5,263.9 L172.5,264.5 L174.5,265.1 L176.5,265.8 L178.5,266.4 L180.5,267.1 L182.5,267.7 L184.5,268.4 L186.5,269.0 L188.5,269.6 L190.5,270.3 L192.5,270.9 L194.5,271.6 L196.5,272.2 L198.5,272.9 L200.5,273.5 L202.5,274.2 L204.5,274.8 L206.5,275.5 L208.5,276.1 L210.5,276.8 L212.5,277.4 L214.5,278.1 L216.5,278.7 L218.5,279.4 L220.5,280.0 L222.5,280.7 L224.5,281.3 L226.5,282.0 L228.5,282.7 L230.5,283.3 L232.5,284.0 L234.5,284.7 L236.5,285.3 L238.5,286.0 L240.5,286.7 L242.5,287.4 L244.5,288.0 L246.5,288.7 L248.5,289.4 L250.5,290.1 L252.5,290.8 L254.5,291.5 L256.5,292.1 L258.5,292.8 L260.5,293.5 L262.5,294.2 L264.5,294.9 L266.5,295.6 L268.5,296.3 L270.5,297.0 L272.5,297.7 L274.5,298.4 L276.5,299.2 L278.5,299.9 L280.5,300.6 L282.5,301.3 L284.5,302.0 L286.5,302.8 L288.5,303.5 L290.5,304.2 L292.5,305.0 L294.5,305.7 L296.5,306.4 L298.5,307.2 L300.5,307.9 L302.5,308.7 L304.5,309.4 L306.5,310.2 L308.5,311.0 L310.5,311.7 L312.5,312.5 L314.5,313.3 L316.5,314.0 L318.5,314.8 L320.5,315.6 L322.5,316.4 L324.5,317.2 L326.5,318.0 L328.5,318.8 L330.5,319.6 L332.5,320.4 L334.5,321.2 L336.5,322.0 L338.5,322.8 L340.5,323.6 L342.5,324.5 L344.5,325.3 L346.5,326.1 L348.5,327.0 L350.5,327.8 L352.5,328.7 L354.5,329.5 L356.5,330.4 L358.5,331.2 L360.5,332.1 L362.5,333.0 L364.5,333.8 L366.5,334.7 L368.5,335.6 L370.5,336.5 L372.5,337.4 L374.5,338.3 L376.5,339.2 L378.5,340.1 L380.5,341.0 L382.5,341.9 L384.5,342.8 L386.5,343.8 L388.5,344.7 L390.5,345.7 L392.5,346.6 L394.5,347.5 L396.5,348.5 L398.5,349.5 L400.5,350.4 L402.5,351.4 L404.5,352.4 L406.5,353.4 L408.5,354.4 L410.5,355.4 L412.5,356.4 L414.5,357.4 L416.5,358.4 L418.5,359.4 L420.5,360.4 L422.5,361.5 L424.5,362.5 L426.5,363.5 L428.5,364.6 L430.5,365.6 L432.5,366.7 L434.5,367.8 L436.5,368.8 L438.5,369.9 L440.5,371.0 L442.5,372.1 L444.5,373.2 L446.5,374.3 L448.5,375.4 L450.5,376.6 L452.5,377.7 L454.5,378.8 L456.5,380.0 L458.5,381.1 L460.5,382.3 L462.5,383.4 L464.5,384.6 L466.5,385.8 L468.5,387.0 L470.5,388.1 L472.5,389.3 L474.5,390.5 L476.5,391.8 L478.5,393.0 L480.5,394.2 L482.5,395.4 L484.5,396.7 L486.5,397.9 L488.5,399.2 L490.5,400.5 L492.5,401.7 L494.5,403.0 L496.5,404.3 L498.5,405.6 L500.5,406.9 L502.5,408.2 L504.5,409.5 L506.5,410.9 L508.5,412.2 L510.5,413.5 L512.5,414.9 L514.5,416.3 L516.5,417.6 L518.5,419.0 L520.5,420.4 L522.5,421.8 L524.5,423.2 L526.5,424.6 L528.5,426.0 L530.5,427.4 L532.5,428.9 L534.5,430.3 L536.5,431.8 L538.5,433.2 L540.5,434.7 L540.6,434.8" fill="none" stroke="#1f6c88" stroke-width="2.1" stroke-linecap="round"/>
<path d="M71.8,284.7 L73.8,285.3 L75.8,285.8 L77.8,286.4 L79.8,286.9 L81.8,287.4 L83.8,288.0 L85.8,288.5 L87.8,289.1 L89.8,289.6 L91.8,290.2 L93.8,290.7 L95.8,291.3 L97.8,291.8 L99.8,292.3 L101.8,292.9 L103.8,293.4 L105.8,294.0 L107.8,294.5 L109.8,295.1 L111.8,295.6 L113.8,296.2 L115.8,296.7 L117.8,297.3 L119.8,297.8 L121.8,298.4 L123.8,298.9 L125.8,299.5 L127.8,300.0 L129.8,300.6 L131.8,301.1 L133.8,301.7 L135.8,302.2 L137.8,302.8 L139.8,303.3 L141.8,303.9 L143.8,304.4 L145.8,305.0 L147.8,305.5 L149.8,306.1 L151.8,306.7 L153.8,307.2 L155.8,307.8 L157.8,308.3 L159.8,308.9 L161.8,309.5 L163.8,310.0 L165.8,310.6 L167.8,311.1 L169.8,311.7 L171.8,312.3 L173.8,312.8 L175.8,313.4 L177.8,314.0 L179.8,314.5 L181.8,315.1 L183.8,315.7 L185.8,316.2 L187.8,316.8 L189.8,317.4 L191.8,317.9 L193.8,318.5 L195.8,319.1 L197.8,319.7 L199.8,320.2 L201.8,320.8 L203.8,321.4 L205.8,322.0 L207.8,322.5 L209.8,323.1 L211.8,323.7 L213.8,324.3 L215.8,324.9 L217.8,325.4 L219.8,326.0 L221.8,326.6 L223.8,327.2 L225.8,327.8 L227.8,328.4 L229.8,329.0 L231.8,329.6 L233.8,330.2 L235.8,330.8 L237.8,331.4 L239.8,331.9 L241.8,332.5 L243.8,333.1 L245.8,333.7 L247.8,334.4 L249.8,335.0 L251.8,335.6 L253.8,336.2 L255.8,336.8 L257.8,337.4 L259.8,338.0 L261.8,338.6 L263.8,339.2 L265.8,339.8 L267.8,340.5 L269.8,341.1 L271.8,341.7 L273.8,342.3 L275.8,342.9 L277.8,343.6 L279.8,344.2 L281.8,344.8 L283.8,345.4 L285.8,346.1 L287.8,346.7 L289.8,347.3 L291.8,348.0 L293.8,348.6 L295.8,349.2 L297.8,349.9 L299.8,350.5 L301.8,351.2 L303.8,351.8 L305.8,352.5 L307.8,353.1 L309.8,353.8 L311.8,354.4 L313.8,355.1 L315.8,355.7 L317.8,356.4 L319.8,357.1 L321.8,357.7 L323.8,358.4 L325.8,359.0 L327.8,359.7 L329.8,360.4 L331.8,361.1 L333.8,361.7 L335.8,362.4 L337.8,363.1 L339.8,363.8 L341.8,364.4 L343.8,365.1 L345.8,365.8 L347.8,366.5 L349.8,367.2 L351.8,367.9 L353.8,368.6 L355.8,369.3 L357.8,370.0 L359.8,370.7 L361.8,371.4 L363.8,372.1 L365.8,372.8 L367.8,373.5 L369.8,374.2 L371.8,374.9 L373.8,375.6 L375.8,376.4 L377.8,377.1 L379.8,377.8 L381.8,378.5 L383.8,379.3 L385.8,380.0 L387.8,380.7 L389.8,381.5 L391.8,382.2 L393.8,382.9 L395.8,383.7 L397.8,384.4 L399.8,385.2 L401.8,385.9 L403.8,386.7 L405.8,387.4 L407.8,388.2 L409.8,389.0 L411.8,389.7 L413.8,390.5 L415.8,391.3 L417.8,392.0 L419.8,392.8 L421.8,393.6 L423.8,394.4 L425.8,395.1 L427.8,395.9 L429.8,396.7 L431.8,397.5 L433.8,398.3 L435.8,399.1 L437.8,399.9 L439.8,400.7 L441.8,401.5 L443.8,402.3 L445.8,403.1 L447.8,403.9 L449.8,404.7 L451.8,405.6 L453.8,406.4 L455.8,407.2 L457.8,408.0 L459.8,408.9 L461.8,409.7 L463.8,410.5 L465.8,411.4 L467.8,412.2 L469.8,413.0 L471.8,413.9 L473.8,414.7 L475.8,415.6 L477.8,416.5 L479.8,417.3 L481.8,418.2 L483.8,419.0 L485.8,419.9 L487.8,420.8 L489.8,421.7 L491.8,422.5 L493.8,423.4 L495.8,424.3 L497.8,425.2 L499.8,426.1 L501.8,427.0 L503.8,427.9 L505.8,428.8 L507.8,429.7 L509.8,430.6 L511.5,431.4" fill="none" stroke="#1f6c88" stroke-width="2.1" stroke-linecap="round"/>
<path d="M71.8,340.8 L73.8,341.2 L75.8,341.5 L77.8,341.8 L79.8,342.2 L81.8,342.5 L83.8,342.9 L85.8,343.2 L87.8,343.6 L89.8,343.9 L91.8,344.3 L93.8,344.7 L95.8,345.0 L97.8,345.4 L99.8,345.7 L101.8,346.1 L103.8,346.4 L105.8,346.8 L107.8,347.1 L109.8,347.5 L111.8,347.9 L113.8,348.2 L115.8,348.6 L117.8,349.0 L119.8,349.3 L121.8,349.7 L123.8,350.0 L125.8,350.4 L127.8,350.8 L129.8,351.2 L131.8,351.5 L133.8,351.9 L135.8,352.3 L137.8,352.6 L139.8,353.0 L141.8,353.4 L143.8,353.8 L145.8,354.1 L147.8,354.5 L149.8,354.9 L151.8,355.3 L153.8,355.7 L155.8,356.0 L157.8,356.4 L159.8,356.8 L161.8,357.2 L163.8,357.6 L165.8,358.0 L167.8,358.4 L169.8,358.8 L171.8,359.2 L173.8,359.6 L175.8,360.0 L177.8,360.4 L179.8,360.8 L181.8,361.2 L183.8,361.6 L185.8,362.0 L187.8,362.4 L189.8,362.8 L191.8,363.2 L193.8,363.6 L195.8,364.0 L197.8,364.4 L199.8,364.8 L201.8,365.2 L203.8,365.7 L205.8,366.1 L207.8,366.5 L209.8,366.9 L211.8,367.4 L213.8,367.8 L215.8,368.2 L217.8,368.6 L219.8,369.1 L221.8,369.5 L223.8,369.9 L225.8,370.4 L227.8,370.8 L229.8,371.3 L231.8,371.7 L233.8,372.1 L235.8,372.6 L237.8,373.0 L239.8,373.5 L241.8,373.9 L243.8,374.4 L245.8,374.8 L247.8,375.3 L249.8,375.8 L251.8,376.2 L253.8,376.7 L255.8,377.2 L257.8,377.6 L259.8,378.1 L261.8,378.6 L263.8,379.0 L265.8,379.5 L267.8,380.0 L269.8,380.5 L271.8,381.0 L273.8,381.4 L275.8,381.9 L277.8,382.4 L279.8,382.9 L281.8,383.4 L283.8,383.9 L285.8,384.4 L287.8,384.9 L289.8,385.4 L291.8,385.9 L293.8,386.4 L295.8,386.9 L297.8,387.5 L299.8,388.0 L301.8,388.5 L303.8,389.0 L305.8,389.5 L307.8,390.1 L309.8,390.6 L311.8,391.1 L313.8,391.6 L315.8,392.2 L317.8,392.7 L319.8,393.3 L321.8,393.8 L323.8,394.3 L325.8,394.9 L327.8,395.4 L329.8,396.0 L331.8,396.6 L333.8,397.1 L335.8,397.7 L337.8,398.2 L339.8,398.8 L341.8,399.4 L343.8,400.0 L345.8,400.5 L347.8,401.1 L349.8,401.7 L351.8,402.3 L353.8,402.9 L355.8,403.5 L357.8,404.0 L359.8,404.6 L361.8,405.2 L363.8,405.8 L365.8,406.4 L367.8,407.1 L369.8,407.7 L371.8,408.3 L373.8,408.9 L375.8,409.5 L377.8,410.1 L379.8,410.8 L381.8,411.4 L383.8,412.0 L385.8,412.7 L387.8,413.3 L389.8,413.9 L391.8,414.6 L393.8,415.2 L395.8,415.9 L397.8,416.5 L399.8,417.2 L401.8,417.9 L403.8,418.5 L405.8,419.2 L407.8,419.9 L409.8,420.5 L411.8,421.2 L413.8,421.9 L415.8,422.6 L417.8,423.3 L419.8,424.0 L421.8,424.7 L423.8,425.4 L425.8,426.1 L427.8,426.8 L429.8,427.5 L431.8,428.2 L433.8,428.9 L435.8,429.6 L437.8,430.3 L439.8,431.1 L441.8,431.8 L443.8,432.5 L445.8,433.3 L447.8,434.0 L449.8,434.8 L451.8,435.5 L452.9,435.9" fill="none" stroke="#1f6c88" stroke-width="2.1" stroke-linecap="round"/>
<path d="M72.5,393.7 L74.5,393.9 L76.5,394.2 L78.5,394.4 L80.5,394.7 L82.5,394.9 L84.5,395.1 L86.5,395.4 L88.5,395.6 L90.5,395.8 L92.5,396.1 L94.5,396.3 L96.5,396.5 L98.5,396.8 L100.5,397.0 L102.5,397.2 L104.5,397.4 L106.5,397.6 L108.5,397.9 L110.5,398.1 L112.5,398.3 L114.5,398.5 L116.5,398.7 L118.5,398.9 L120.5,399.1 L122.5,399.4 L124.5,399.6 L126.5,399.8 L128.5,400.0 L130.5,400.2 L132.5,400.4 L134.5,400.6 L136.5,400.8 L138.5,401.0 L140.5,401.2 L142.5,401.4 L144.5,401.6 L146.5,401.8 L148.5,402.0 L150.5,402.2 L152.5,402.4 L154.5,402.6 L156.5,402.8 L158.5,403.0 L160.5,403.2 L162.5,403.5 L164.5,403.7 L166.5,403.9 L168.5,404.1 L170.5,404.3 L172.5,404.5 L174.5,404.7 L176.5,404.9 L178.5,405.1 L180.5,405.3 L182.5,405.5 L184.5,405.7 L186.5,406.0 L188.5,406.2 L190.5,406.4 L192.5,406.6 L194.5,406.8 L196.5,407.0 L198.5,407.3 L200.5,407.5 L202.5,407.7 L204.5,407.9 L206.5,408.2 L208.5,408.4 L210.5,408.6 L212.5,408.9 L214.5,409.1 L216.5,409.3 L218.5,409.6 L220.5,409.8 L222.5,410.1 L224.5,410.3 L226.5,410.6 L228.5,410.8 L230.5,411.1 L232.5,411.3 L234.5,411.6 L236.5,411.9 L238.5,412.1 L240.5,412.4 L242.5,412.7 L244.5,413.0 L246.5,413.2 L248.5,413.5 L250.5,413.8 L252.5,414.1 L254.5,414.4 L256.5,414.7 L258.5,415.0 L260.5,415.3 L262.5,415.6 L264.5,415.9 L266.5,416.2 L268.5,416.5 L270.5,416.9 L272.5,417.2 L274.5,417.5 L276.5,417.8 L278.5,418.2 L280.5,418.5 L282.5,418.9 L284.5,419.2 L286.5,419.6 L288.5,419.9 L290.5,420.3 L292.5,420.7 L294.5,421.1 L296.5,421.4 L298.5,421.8 L300.5,422.2 L302.5,422.6 L304.5,423.0 L306.5,423.4 L308.5,423.8 L310.5,424.2 L312.5,424.7 L314.5,425.1 L316.5,425.5 L318.5,425.9 L320.5,426.4 L322.5,426.8 L324.5,427.3 L326.5,427.8 L328.5,428.2 L330.5,428.7 L332.5,429.2 L334.5,429.7 L336.5,430.1 L338.5,430.6 L340.5,431.1 L342.5,431.7 L344.5,432.2 L346.5,432.7 L348.5,433.2 L350.5,433.8 L352.5,434.3 L354.5,434.8 L356.5,435.4 L358.5,436.0 L360.5,436.5 L362.5,437.1 L364.5,437.7 L366.5,438.3 L368.5,438.9 L370.5,439.5 L372.5,440.1 L374.5,440.7 L376.5,441.3 L378.5,442.0 L379.4,442.3" fill="none" stroke="#1f6c88" stroke-width="2.1" stroke-linecap="round"/>
<text x="88.3" y="174.5" text-anchor="middle" font-size="8.3" fill="#6a9cb3">5 (8)</text>
<text x="121.8" y="187.2" text-anchor="middle" font-size="8.3" fill="#6a9cb3">10 (17)</text>
<text x="156.4" y="202.0" text-anchor="middle" font-size="8.3" fill="#6a9cb3">15 (25)</text>
<text x="192.4" y="214.2" text-anchor="middle" font-size="8.3" fill="#6a9cb3">20 (34)</text>
<text x="244.5" y="229.4" text-anchor="middle" font-size="8.3" fill="#6a9cb3">25 (42)</text>
<text x="284.6" y="252.2" text-anchor="middle" font-size="8.3" fill="#6a9cb3">30 (51)</text>
<text x="326.8" y="267.2" text-anchor="middle" font-size="8.3" fill="#6a9cb3">35 (59)</text>
<text x="388.0" y="301.0" text-anchor="middle" font-size="8.3" fill="#6a9cb3">40 (68)</text>
<line x1="39.7" y1="179" x2="39.7" y2="449.7" stroke="#c8c8c8" stroke-width="1"/>
<line x1="39.7" y1="449.7" x2="42.5" y2="449.7" stroke="#c8c8c8" stroke-width="1"/>
<text x="35.4" y="454.1" text-anchor="end" font-size="10" fill="#636363">0</text>
<line x1="39.7" y1="411.1" x2="42.5" y2="411.1" stroke="#c8c8c8" stroke-width="1"/>
<text x="35.4" y="415.4" text-anchor="end" font-size="10" fill="#636363">1</text>
<line x1="39.7" y1="372.5" x2="42.5" y2="372.5" stroke="#c8c8c8" stroke-width="1"/>
<text x="35.4" y="376.7" text-anchor="end" font-size="10" fill="#636363">2</text>
<line x1="39.7" y1="333.9" x2="42.5" y2="333.9" stroke="#c8c8c8" stroke-width="1"/>
<text x="35.4" y="338.0" text-anchor="end" font-size="10" fill="#636363">3</text>
<line x1="39.7" y1="295.4" x2="42.5" y2="295.4" stroke="#c8c8c8" stroke-width="1"/>
<text x="35.4" y="299.3" text-anchor="end" font-size="10" fill="#636363">4</text>
<line x1="39.7" y1="256.8" x2="42.5" y2="256.8" stroke="#c8c8c8" stroke-width="1"/>
<text x="35.4" y="260.6" text-anchor="end" font-size="10" fill="#636363">5</text>
<line x1="39.7" y1="218.2" x2="42.5" y2="218.2" stroke="#c8c8c8" stroke-width="1"/>
<text x="35.4" y="221.9" text-anchor="end" font-size="10" fill="#636363">6</text>
<line x1="39.7" y1="179.6" x2="42.5" y2="179.6" stroke="#c8c8c8" stroke-width="1"/>
<text x="35.4" y="183.2" text-anchor="end" font-size="10" fill="#636363">7</text>
<text x="63.5" y="398.4" text-anchor="end" font-size="10" fill="#636363">20</text>
<text x="63.5" y="344.6" text-anchor="end" font-size="10" fill="#636363">40</text>
<text x="63.5" y="290.7" text-anchor="end" font-size="10" fill="#636363">60</text>
<text x="63.5" y="236.9" text-anchor="end" font-size="10" fill="#636363">80</text>
<text x="63.5" y="183.1" text-anchor="end" font-size="10" fill="#636363">100</text>
<text transform="translate(39.4,166.3) rotate(-90)" font-size="9.5" fill="#636363">BAR</text>
<text transform="translate(60.3,166.3) rotate(-90)" font-size="9.5" fill="#636363">PSI</text>
<text x="109" y="159.4" font-size="10.5" fill="#222">SCFM (M<tspan font-size="6.5" dy="-3.5">3</tspan><tspan dy="3.5">/hr)</tspan></text>
<text x="591.8" y="171.2" text-anchor="end" font-size="12.3" fill="#383838">Performance based on water at ambient temperature.</text>
<line x1="442.5" y1="188.2" x2="450.8" y2="188.2" stroke="#555" stroke-width="1.5"/>
<line x1="455" y1="188.2" x2="463" y2="188.2" stroke="#555" stroke-width="1.5"/>
<line x1="442.5" y1="198" x2="464.6" y2="198" stroke="#2b87ad" stroke-width="2"/>
<text x="470.2" y="190.2" font-size="8" fill="#555" textLength="116" lengthAdjust="spacingAndGlyphs">AIR CONSUMPTION IN SCFM</text>
<text x="470.2" y="199.8" font-size="8" fill="#555" textLength="86" lengthAdjust="spacingAndGlyphs">AIR PRESSURE IN PSI</text>
<text x="59.8" y="460.8" text-anchor="middle" font-size="10" fill="#636363">0</text>
<text x="124.2" y="461" text-anchor="middle" font-size="10" fill="#636363">5</text>
<text x="176.0" y="461" text-anchor="middle" font-size="10" fill="#636363">10</text>
<text x="227.9" y="461" text-anchor="middle" font-size="10" fill="#636363">15</text>
<text x="279.7" y="461" text-anchor="middle" font-size="10" fill="#636363">20</text>
<text x="331.6" y="461" text-anchor="middle" font-size="10" fill="#636363">25</text>
<text x="383.4" y="461" text-anchor="middle" font-size="10" fill="#636363">30</text>
<text x="435.2" y="461" text-anchor="middle" font-size="10" fill="#636363">35</text>
<text x="487.1" y="461" text-anchor="middle" font-size="10" fill="#636363">40</text>
<text x="538.9" y="461" text-anchor="middle" font-size="10" fill="#636363">45</text>
<text x="590.8" y="461" text-anchor="middle" font-size="10" fill="#636363">50</text>
<text x="601" y="461.5" font-size="10" fill="#636363">GPM</text>
<line x1="69.5" y1="470.6" x2="568.6" y2="470.6" stroke="#c8c8c8" stroke-width="1.2"/>
<line x1="69.5" y1="470.6" x2="69.5" y2="473.5" stroke="#c8c8c8" stroke-width="1"/>
<line x1="97.2" y1="470.6" x2="97.2" y2="473.5" stroke="#c8c8c8" stroke-width="1"/>
<line x1="125.0" y1="470.6" x2="125.0" y2="473.5" stroke="#c8c8c8" stroke-width="1"/>
<line x1="152.7" y1="470.6" x2="152.7" y2="473.5" stroke="#c8c8c8" stroke-width="1"/>
<line x1="180.4" y1="470.6" x2="180.4" y2="473.5" stroke="#c8c8c8" stroke-width="1"/>
<line x1="208.1" y1="470.6" x2="208.1" y2="473.5" stroke="#c8c8c8" stroke-width="1"/>
<line x1="235.9" y1="470.6" x2="235.9" y2="473.5" stroke="#c8c8c8" stroke-width="1"/>
<line x1="263.6" y1="470.6" x2="263.6" y2="473.5" stroke="#c8c8c8" stroke-width="1"/>
<line x1="291.3" y1="470.6" x2="291.3" y2="473.5" stroke="#c8c8c8" stroke-width="1"/>
<line x1="319.1" y1="470.6" x2="319.1" y2="473.5" stroke="#c8c8c8" stroke-width="1"/>
<line x1="346.8" y1="470.6" x2="346.8" y2="473.5" stroke="#c8c8c8" stroke-width="1"/>
<line x1="374.5" y1="470.6" x2="374.5" y2="473.5" stroke="#c8c8c8" stroke-width="1"/>
<line x1="402.2" y1="470.6" x2="402.2" y2="473.5" stroke="#c8c8c8" stroke-width="1"/>
<line x1="430.0" y1="470.6" x2="430.0" y2="473.5" stroke="#c8c8c8" stroke-width="1"/>
<line x1="457.7" y1="470.6" x2="457.7" y2="473.5" stroke="#c8c8c8" stroke-width="1"/>
<line x1="485.4" y1="470.6" x2="485.4" y2="473.5" stroke="#c8c8c8" stroke-width="1"/>
<line x1="513.1" y1="470.6" x2="513.1" y2="473.5" stroke="#c8c8c8" stroke-width="1"/>
<line x1="540.9" y1="470.6" x2="540.9" y2="473.5" stroke="#c8c8c8" stroke-width="1"/>
<line x1="568.6" y1="470.6" x2="568.6" y2="473.5" stroke="#c8c8c8" stroke-width="1"/>
<text x="69.5" y="486.6" text-anchor="middle" font-size="10" fill="#636363">0</text>
<text x="125.0" y="486.6" text-anchor="middle" font-size="10" fill="#636363">20</text>
<text x="180.4" y="486.6" text-anchor="middle" font-size="10" fill="#636363">40</text>
<text x="235.9" y="486.6" text-anchor="middle" font-size="10" fill="#636363">60</text>
<text x="291.3" y="486.6" text-anchor="middle" font-size="10" fill="#636363">80</text>
<text x="346.8" y="486.6" text-anchor="middle" font-size="10" fill="#636363">100</text>
<text x="402.2" y="486.6" text-anchor="middle" font-size="10" fill="#636363">120</text>
<text x="457.7" y="486.6" text-anchor="middle" font-size="10" fill="#636363">140</text>
<text x="513.1" y="486.6" text-anchor="middle" font-size="10" fill="#636363">160</text>
<text x="568.6" y="486.6" text-anchor="middle" font-size="10" fill="#636363">180</text>
<text x="595.7" y="486.8" font-size="10" fill="#636363">LPM</text>
<text x="289" y="507.7" font-size="17" font-weight="bold" fill="#23739a">CAPACITY</text>
<text transform="translate(24,335.3) rotate(-90)" font-size="16.5" font-weight="bold" fill="#23739a">HEAD</text>
<text transform="translate(624,318.3) rotate(-90)" font-size="17" font-weight="bold" fill="#23739a">NPSHR</text>
<text transform="translate(611,357) rotate(-90)" font-size="9" fill="#636363">Feet</text>
<text transform="translate(638,357) rotate(-90)" font-size="9" fill="#636363">Meters</text>
<line x1="623" y1="368" x2="623" y2="450" stroke="#c8c8c8" stroke-width="1"/>
<text x="611" y="371.6" text-anchor="end" font-size="10" fill="#636363">30</text>
<text x="629" y="371.6" font-size="10" fill="#636363">9.1</text>
<text x="611" y="385.6" text-anchor="end" font-size="10" fill="#636363">25</text>
<text x="629" y="385.6" font-size="10" fill="#636363">7.6</text>
<text x="611" y="399.2" text-anchor="end" font-size="10" fill="#636363">20</text>
<text x="629" y="399.2" font-size="10" fill="#636363">6</text>
<text x="611" y="413.6" text-anchor="end" font-size="10" fill="#636363">15</text>
<text x="629" y="413.6" font-size="10" fill="#636363">4.5</text>
<text x="611" y="427.2" text-anchor="end" font-size="10" fill="#636363">10</text>
<text x="629" y="427.2" font-size="10" fill="#636363">3</text>
<text x="611" y="442.6" text-anchor="end" font-size="10" fill="#636363">5</text>
<text x="629" y="442.6" font-size="10" fill="#636363">1.5</text>
<line x1="619.5" y1="368.0" x2="623" y2="368.0" stroke="#c8c8c8" stroke-width="1"/>
<line x1="619.5" y1="395.6" x2="623" y2="395.6" stroke="#c8c8c8" stroke-width="1"/>
<line x1="619.5" y1="423.6" x2="623" y2="423.6" stroke="#c8c8c8" stroke-width="1"/>
</svg>
</body></html>
